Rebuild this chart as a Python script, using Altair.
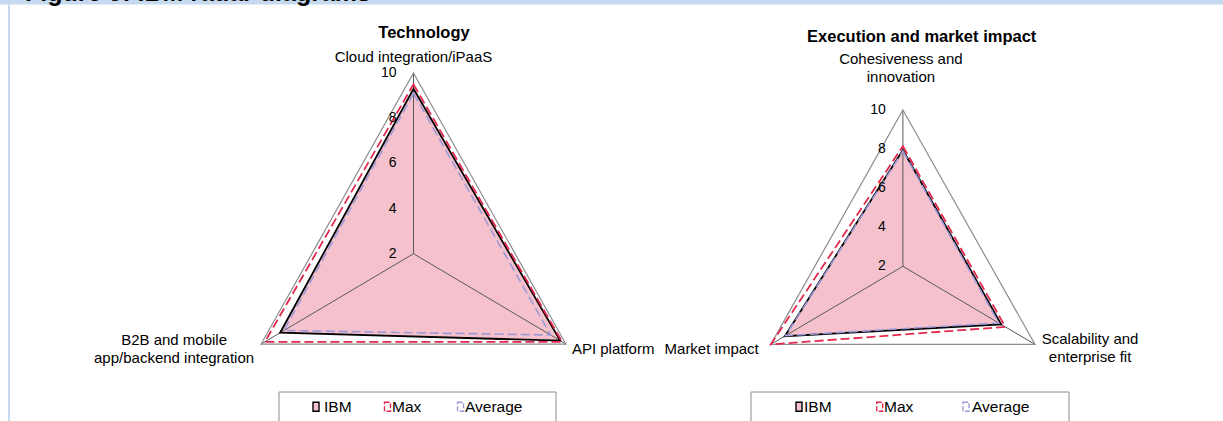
import math
import altair as alt
import pandas as pd

# ---------------- data ----------------
series_names = ["IBM", "Max", "Average"]
tick_values = [2, 4, 6, 8, 10]
scale_min, scale_max = 2, 10
titles = ["Technology", "Execution and market impact"]
header_text = "Figure 5: IBM radar diagrams"

tech_axes = [["Cloud integration/iPaaS"], ["API platform"], ["B2B and mobile", "app/backend integration"]]
tech_ibm = [9.3, 9.7, 9.0]
tech_max = [9.5, 9.8, 9.8]
tech_avg = [9.1, 9.2, 8.8]

exec_axes = [["Cohesiveness and", "innovation"], ["Scalability and", "enterprise fit"], ["Market impact"]]
exec_ibm = [7.95, 7.95, 9.15]
exec_max = [8.15, 8.2, 10.0]
exec_avg = [7.9, 7.8, 9.1]

# ---------------- layout / style ----------------
W, H = 1223, 421
FONT = "Liberation Sans"
angles = [90, -30, 210]
PINK = "#F4C1CC"
RED = "#E3294F"
PURPLE = "#9E9AD8"
BLUE = "#C6D9F1"

panels = [
    dict(cx=413.5, cy=253.7, rx=176.0, ry=180.7, title=(424, 33),
         lab=[(0, -16, "center"), (6, 5, "left"), (-87, 5.4, "center")],
         box=(279, 556), icons=[316, 387.5, 460.5], texts=[324, 392, 465]),
    dict(cx=902.9, cy=266.3, rx=152.6, ry=156.3, title=(921.7, 37),
         lab=[(-2, -42, "center"), (55, 4, "center"), (-12, 5, "right")],
         box=(751, 1069), icons=[799, 879.7, 966], texts=[804, 884, 972]),
]
panel_data = [
    (tech_axes, [tech_ibm, tech_max, tech_avg]),
    (exec_axes, [exec_ibm, exec_max, exec_avg]),
]


def pt(p, k, v):
    a = math.radians(angles[k])
    r = (v - scale_min) / (scale_max - scale_min)
    return p["cx"] + r * p["rx"] * math.cos(a), p["cy"] - r * p["ry"] * math.sin(a)


poly_rows, spoke_rows, tick_rows, label_rows, title_rows = [], [], [], [], []
box_rows, icon_rows, legtext_rows = [], [], []
for pi, (p, (axes, vals)) in enumerate(zip(panels, panel_data)):
    for s, arr in zip(series_names, vals):
        for k, v in enumerate(arr):
            x, y = pt(p, k, v)
            poly_rows.append(dict(panel=pi, series=s, k=k, x=x, y=y))
    for k in range(3):
        x, y = pt(p, k, scale_max)
        poly_rows.append(dict(panel=pi, series="frame", k=k, x=x, y=y))
        spoke_rows.append(dict(panel=pi, x=p["cx"], y=p["cy"], x2=x, y2=y))
        dx, dy, al = p["lab"][k]
        lines = axes[k]
        n = len(lines)
        for i, line in enumerate(lines):
            label_rows.append(dict(x=x + dx, y=y + dy + (i - (n - 1) / 2) * 18, text=line, anchor=al))
    for v in tick_values:
        x, y = pt(p, 0, v)
        tick_rows.append(dict(x=x - 17, y=y, text=str(v)))
    title_rows.append(dict(x=p["title"][0], y=p["title"][1], text=titles[pi]))
    box_rows.append(dict(x=p["box"][0], x2=p["box"][1], y=392, y2=440))
    for s, ix, tx in zip(series_names, p["icons"], p["texts"]):
        icon_rows.append(dict(series=s, x=ix - 3, x2=ix + 3, y=402.2, y2=411.2))
        legtext_rows.append(dict(x=tx, y=406.7, text=s))

poly = pd.DataFrame(poly_rows)
spokes = pd.DataFrame(spoke_rows)
ticks = pd.DataFrame(tick_rows)
labels = pd.DataFrame(label_rows)
tdf = pd.DataFrame(title_rows)
boxes = pd.DataFrame(box_rows)
icons = pd.DataFrame(icon_rows)
legtexts = pd.DataFrame(legtext_rows)

X = alt.X("x:Q", scale=alt.Scale(domain=[0, W], nice=False, zero=False), axis=None)
Y = alt.Y("y:Q", scale=alt.Scale(domain=[0, H], nice=False, zero=False, reverse=True), axis=None)

layers = []

# header band + left rule (the page's heading is cut off at the top edge)
deco = pd.DataFrame([dict(x=0, x2=W, y=0, y2=4.5), dict(x=8, x2=10, y=4.5, y2=H)])
layers.append(alt.Chart(deco).mark_rect(fill=BLUE, strokeWidth=0).encode(X, Y, x2="x2:Q", y2="y2:Q"))
layers.append(
    alt.Chart(pd.DataFrame([dict(x=25, y=0.8, text=header_text)])).mark_text(
        font=FONT, fontSize=25, fontWeight="bold", align="left", baseline="alphabetic",
        color="#000000", clip=True
    ).encode(X, Y, text="text:N")
)

# IBM fill
layers.append(
    alt.Chart(poly[poly["series"] == "IBM"]).mark_line(
        interpolate="linear-closed", fill=PINK, strokeWidth=0
    ).encode(X, Y, detail="panel:N", order="k:Q")
)
# spokes
layers.append(
    alt.Chart(spokes).mark_rule(color="#5A5A5A", strokeWidth=1).encode(X, Y, x2="x2:Q", y2="y2:Q")
)
# outer frame
layers.append(
    alt.Chart(poly[poly["series"] == "frame"]).mark_line(
        interpolate="linear-closed", stroke="#8C8C8C", strokeWidth=1.2
    ).encode(X, Y, detail="panel:N", order="k:Q")
)
# IBM outline
layers.append(
    alt.Chart(poly[poly["series"] == "IBM"]).mark_line(
        interpolate="linear-closed", stroke="#000000", strokeWidth=1.8
    ).encode(X, Y, detail="panel:N", order="k:Q")
)
# Max
layers.append(
    alt.Chart(poly[poly["series"] == "Max"]).mark_line(
        interpolate="linear-closed", stroke=RED, strokeWidth=1.8, strokeDash=[9, 4]
    ).encode(X, Y, detail="panel:N", order="k:Q")
)
# Average
layers.append(
    alt.Chart(poly[poly["series"] == "Average"]).mark_line(
        interpolate="linear-closed", stroke=PURPLE, strokeWidth=1.6, strokeDash=[9, 4]
    ).encode(X, Y, detail="panel:N", order="k:Q")
)
# tick labels
layers.append(
    alt.Chart(ticks).mark_text(font=FONT, fontSize=14, align="right", baseline="middle", color="#000000")
    .encode(X, Y, text="text:N")
)
# category labels
for al in ["left", "center", "right"]:
    sub = labels[labels["anchor"] == al]
    if len(sub):
        layers.append(
            alt.Chart(sub).mark_text(font=FONT, fontSize=15, align=al, baseline="middle", color="#000000")
            .encode(X, Y, text="text:N")
        )
# titles
layers.append(
    alt.Chart(tdf).mark_text(font=FONT, fontSize=16.5, fontWeight="bold", align="center",
                             baseline="middle", color="#000000")
    .encode(X, Y, text="text:N")
)
# legend boxes
layers.append(
    alt.Chart(boxes).mark_rect(fill="#FFFFFF", stroke="#8C8C8C", strokeWidth=1, clip=True)
    .encode(X, Y, x2="x2:Q", y2="y2:Q")
)
# legend icons
icon_style = {
    "IBM": dict(fill=PINK, stroke="#000000", strokeWidth=1.4),
    "Max": dict(fill="#FFFFFF", stroke=RED, strokeWidth=1.4, strokeDash=[5, 2]),
    "Average": dict(fill="#FFFFFF", stroke=PURPLE, strokeWidth=1.4, strokeDash=[5, 2]),
}
for s in series_names:
    layers.append(
        alt.Chart(icons[icons["series"] == s]).mark_rect(**icon_style[s])
        .encode(X, Y, x2="x2:Q", y2="y2:Q")
    )
layers.append(
    alt.Chart(legtexts).mark_text(font=FONT, fontSize=15.5, align="left", baseline="middle", color="#000000")
    .encode(X, Y, text="text:N")
)

chart = alt.layer(*layers).properties(
    width=W, height=H, padding=0, autosize=alt.AutoSizeParams(type="none"), background="#FFFFFF"
).configure_view(stroke=None)

chart.save("out.html", embed_options={"renderer": "svg", "actions": False})
